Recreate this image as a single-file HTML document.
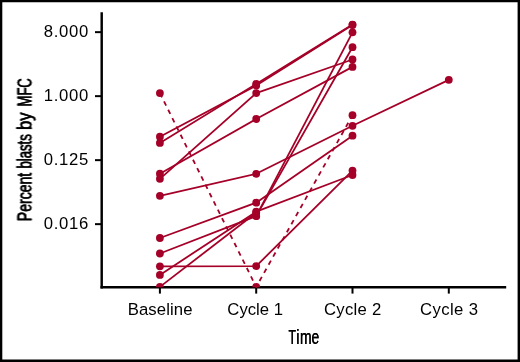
<!DOCTYPE html>
<html><head><meta charset="utf-8"><title>Percent blasts by MFC over time</title>
<style>
html,body{margin:0;padding:0;background:#fff;}
body{width:520px;height:362px;overflow:hidden;}
svg{display:block;}
text{font-family:"Liberation Sans",sans-serif;fill:#000;}
.cond{filter:drop-shadow(0.85px 0 0 #000);stroke:#000;stroke-width:0.15px;}
.cond.v{filter:drop-shadow(0.95px 0 0 #000);stroke-width:0.35px;}
</style></head><body>
<svg width="520" height="362" viewBox="0 0 520 362">
<rect x="0" y="0" width="520" height="362" fill="#fff"/>

<g stroke="#000" fill="none">
<path d="M101.7 288.4 V12.2" stroke-width="2.45"/><path d="M100.5 287.18 H506.2" stroke-width="2.5"/>
<g stroke-width="2">
<path d="M95 32.15 H101"/>
<path d="M95 96.15 H101"/>
<path d="M95 160.15 H101"/>
<path d="M95 224.15 H101"/>
<path d="M159.9 288 V293.6"/>
<path d="M256.2 288 V293.6"/>
<path d="M352.5 288 V293.6"/>
<path d="M448.8 288 V293.6"/>
</g></g>
<clipPath id="plot"><rect x="90" y="0" width="430" height="287.25"/></clipPath>
<clipPath id="plot2"><rect x="90" y="0" width="430" height="288.4"/></clipPath>
<g>
<g fill="none" stroke="#A50028" stroke-width="1.8" stroke-linejoin="round" clip-path="url(#plot2)">
<polyline points="159.9,93.1 256.2,286.9 352.5,115.2" stroke-dasharray="4.7 4.6" stroke-linejoin="miter"/>
<polyline points="159.9,136.7 256.2,85.5 352.5,25.0"/>
<polyline points="159.9,142.9 256.2,83.9 352.5,24.6"/>
<polyline points="159.9,173.7 256.2,119.0 352.5,66.9"/>
<polyline points="159.9,178.8 256.2,93.1 352.5,59.5"/>
<polyline points="159.9,195.8 256.2,173.8 352.5,125.8 448.8,79.85"/>
<polyline points="159.9,238.0 256.2,202.7 352.5,135.7"/>
<polyline points="159.9,253.5 256.2,216.1 352.5,47.2"/>
<polyline points="159.9,266.3 256.2,266.1 352.5,170.6"/>
<polyline points="159.9,274.9 256.2,211.7 352.5,175.0"/>
<polyline points="256.2,216.1 352.5,32.3"/>
<polyline points="159.9,286.9 256.2,212.6"/>
</g>
<g fill="#A50028" clip-path="url(#plot)">
<circle cx="159.9" cy="93.1" r="3.9"/>
<circle cx="256.2" cy="286.9" r="3.9"/>
<circle cx="352.5" cy="115.2" r="3.9"/>
<circle cx="159.9" cy="136.7" r="3.9"/>
<circle cx="256.2" cy="85.5" r="3.9"/>
<circle cx="352.5" cy="25.0" r="3.9"/>
<circle cx="159.9" cy="142.9" r="3.9"/>
<circle cx="256.2" cy="83.9" r="3.9"/>
<circle cx="352.5" cy="24.6" r="3.9"/>
<circle cx="159.9" cy="173.7" r="3.9"/>
<circle cx="256.2" cy="119.0" r="3.9"/>
<circle cx="352.5" cy="66.9" r="3.9"/>
<circle cx="159.9" cy="178.8" r="3.9"/>
<circle cx="256.2" cy="93.1" r="3.9"/>
<circle cx="352.5" cy="59.5" r="3.9"/>
<circle cx="159.9" cy="195.8" r="3.9"/>
<circle cx="256.2" cy="173.8" r="3.9"/>
<circle cx="352.5" cy="125.8" r="3.9"/>
<circle cx="448.8" cy="79.85" r="3.9"/>
<circle cx="159.9" cy="238.0" r="3.9"/>
<circle cx="256.2" cy="202.7" r="3.9"/>
<circle cx="352.5" cy="135.7" r="3.9"/>
<circle cx="159.9" cy="253.5" r="3.9"/>
<circle cx="256.2" cy="216.1" r="3.9"/>
<circle cx="352.5" cy="47.2" r="3.9"/>
<circle cx="159.9" cy="266.3" r="3.9"/>
<circle cx="256.2" cy="266.1" r="3.9"/>
<circle cx="352.5" cy="170.6" r="3.9"/>
<circle cx="159.9" cy="274.9" r="3.9"/>
<circle cx="256.2" cy="211.7" r="3.9"/>
<circle cx="352.5" cy="175.0" r="3.9"/>
<circle cx="256.2" cy="216.1" r="3.9"/>
<circle cx="352.5" cy="32.3" r="3.9"/>
<circle cx="159.9" cy="286.9" r="3.9"/>
<circle cx="256.2" cy="212.6" r="3.9"/>
</g>
</g>
<text x="88.3" y="37.35" font-size="16.7" text-anchor="end" textLength="44.5" lengthAdjust="spacing">8.000</text>
<text x="88.3" y="101.35000000000001" font-size="16.7" text-anchor="end" textLength="44.5" lengthAdjust="spacing">1.000</text>
<text x="88.3" y="165.35" font-size="16.7" text-anchor="end" textLength="44.5" lengthAdjust="spacing">0.125</text>
<text x="88.3" y="229.35" font-size="16.7" text-anchor="end" textLength="44.5" lengthAdjust="spacing">0.016</text>
<text x="160.1" y="315.3" font-size="16.7" text-anchor="middle" textLength="64.8" lengthAdjust="spacing">Baseline</text>
<text x="255.2" y="315.3" font-size="16.7" text-anchor="middle">Cycle 1</text>
<text x="352.6" y="315.3" font-size="16.7" text-anchor="middle" textLength="57.4" lengthAdjust="spacing">Cycle 2</text>
<text x="449.0" y="315.3" font-size="16.7" text-anchor="middle" textLength="58.2" lengthAdjust="spacing">Cycle 3</text>
<text class="cond" y="343.7" font-size="20.6"><tspan x="288.6" textLength="7.5" lengthAdjust="spacingAndGlyphs">T</tspan><tspan x="296.2" textLength="3.2" lengthAdjust="spacingAndGlyphs">i</tspan><tspan x="299.9" textLength="11.6" lengthAdjust="spacingAndGlyphs">m</tspan><tspan x="311.6" textLength="7.75" lengthAdjust="spacingAndGlyphs">e</tspan></text>
<text class="cond v" transform="translate(31.5 0) rotate(-90)" font-size="20.2"><tspan x="-221.20" textLength="48.40" lengthAdjust="spacingAndGlyphs">Percent</tspan> <tspan x="-168.60" textLength="34.40" lengthAdjust="spacingAndGlyphs">blasts</tspan> <tspan x="-130.10" textLength="17.60" lengthAdjust="spacingAndGlyphs">by</tspan> <tspan x="-106.50" textLength="28.30" lengthAdjust="spacingAndGlyphs">MFC</tspan></text>
<path d="M0 0H520V362H0Z M2.3 2.3V359.4H517.6V2.3Z" fill="#000" fill-rule="evenodd"/>
</svg>
</body></html>
